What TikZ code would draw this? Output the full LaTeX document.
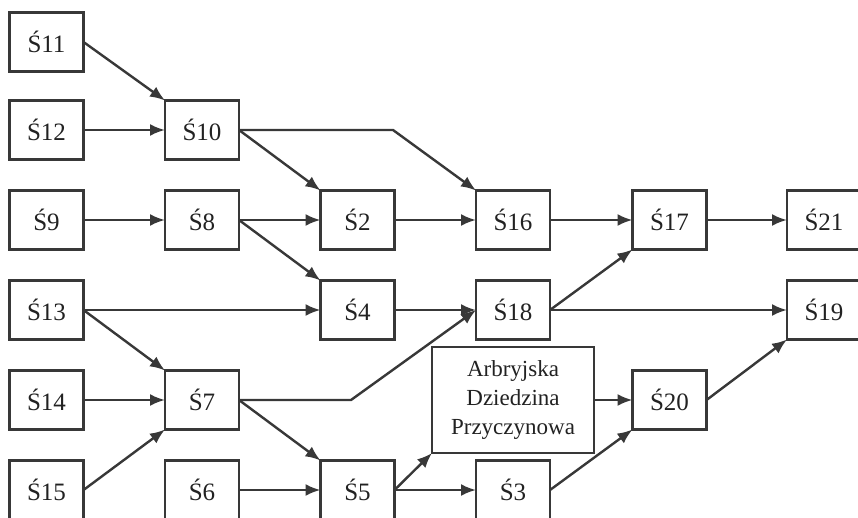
\documentclass[tikz,border=0pt]{standalone}
\usepackage{fontspec}
\setmainfont{Liberation Serif}
\usetikzlibrary{arrows.meta}
\definecolor{ink}{gray}{0.22}
\begin{document}
\begin{tikzpicture}[x=1pt,y=-1pt,
  box/.style={draw=ink,line width=2.4pt,rectangle,inner sep=0pt,outer sep=0pt,
    minimum width=74pt,minimum height=59pt,font=\fontsize{25}{30}\selectfont,text=ink!60!black},
  arr/.style={draw=ink,line width=2.4pt,-{Latex[length=15pt,width=12pt]}}]
\path[clip] (0,0) rectangle (858,518);
\fill[white] (0,0) rectangle (858,518);
% column 1
\node[box] (s11) at (46.5,42) {Ś11};
\node[box] (s12) at (46.5,130) {Ś12};
\node[box] (s9)  at (46.5,220) {Ś9};
\node[box] (s13) at (46.5,310) {Ś13};
\node[box] (s14) at (46.5,400) {Ś14};
\node[box] (s15) at (46.5,490) {Ś15};
% column 2
\node[box] (s10) at (202,130) {Ś10};
\node[box] (s8)  at (202,220) {Ś8};
\node[box] (s7)  at (202,400) {Ś7};
\node[box] (s6)  at (202,490) {Ś6};
% column 3
\node[box] (s2) at (357.5,220) {Ś2};
\node[box] (s4) at (357.5,310) {Ś4};
\node[box] (s5) at (357.5,490) {Ś5};
% column 4
\node[box] (s16) at (513,220) {Ś16};
\node[box] (s18) at (513,310) {Ś18};
\node[box] (s3)  at (513,490) {Ś3};
\node[box,minimum width=162pt,minimum height=106pt,align=center,
  font=\fontsize{23}{29}\selectfont] (adp) at (513,400) {Arbryjska\\Dziedzina\\Przyczynowa};
% column 5
\node[box] (s17) at (669.5,220) {Ś17};
\node[box] (s20) at (669.5,400) {Ś20};
% column 6
\node[box] (s21) at (824,220) {Ś21};
\node[box] (s19) at (824,310) {Ś19};
% elbow points
\coordinate (e1) at (393,130);
\coordinate (e2) at (351,400);
% connectors
\draw[arr] (s11.east) -- (s10.north west);
\draw[arr] (s12) -- (s10);
\draw[arr] (s9) -- (s8);
\draw[arr] (s10.east) -- (s2.north west);
\draw[arr] (s10.east) -- (e1) -- (s16.north west);
\draw[arr] (s8.east) -- (s2.west);
\draw[arr] (s8.east) -- (s4.north west);
\draw[arr] (s2) -- (s16);
\draw[arr] (s13.east) -- (s4.west);
\draw[arr] (s13.east) -- (s7.north west);
\draw[arr] (s14) -- (s7);
\draw[arr] (s15.east) -- (s7.south west);
\draw[arr] (s7.east) -- (e2) -- (s18.west);
\draw[arr] (s7.east) -- (s5.north west);
\draw[arr] (s6) -- (s5);
\draw[arr] (s4) -- (s18);
\draw[arr] (s16) -- (s17);
\draw[arr] (s17) -- (s21);
\draw[arr] (s18.east) -- (s17.south west);
\draw[arr] (s18) -- (s19);
\draw[arr] (adp) -- (s20);
\draw[arr] (s5.east) -- (adp.south west);
\draw[arr] (s5) -- (s3);
\draw[arr] (s3.east) -- (s20.south west);
\draw[arr] (s20.east) -- (s19.south west);
\end{tikzpicture}
\end{document}
